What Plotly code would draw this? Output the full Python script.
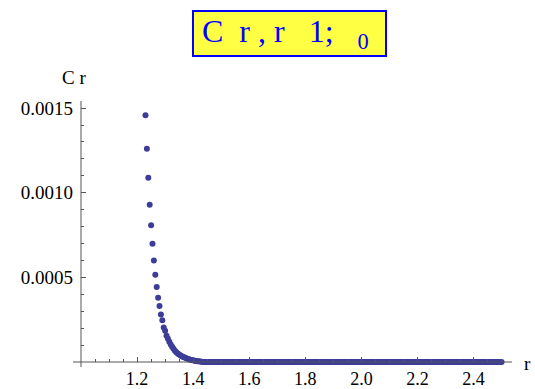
import numpy as np
import plotly.graph_objects as go

# Sampled radii: uniform step from the first point inside the plot range to r = 2.5
r_start, r_step, r_end = 1.23, 0.005, 2.5
r_values = np.round(np.arange(r_start, r_end + r_step / 2, r_step), 4)

# C(r) on the steep part of the curve
c_decay = [
    0.001457, 0.001260, 0.001088, 0.000929, 0.000808, 0.000699, 0.000600, 0.000516,
    0.000443, 0.000380, 0.000331, 0.000281, 0.000246, 0.000204, 0.000185, 0.000155,
    0.000137, 0.000120, 0.000104, 0.000090, 0.000078, 0.000067, 0.000058, 0.000050,
    0.000044, 0.000039, 0.000034, 0.000030, 0.000026, 0.000022, 0.000019, 0.000016,
    0.000014, 0.000012, 0.000010, 0.000008, 0.000006, 0.000005, 0.000004, 0.000003,
    0.000002,
]
# beyond r ~ 1.43 the values sit on the axis
c_values = c_decay + [0.0] * (len(r_values) - len(c_decay))

x_tick_vals = [1.2, 1.4, 1.6, 1.8, 2.0, 2.2, 2.4]
x_tick_text = ["1.2", "1.4", "1.6", "1.8", "2.0", "2.2", "2.4"]
y_tick_vals = [0.0005, 0.0010, 0.0015]
y_tick_text = ["0.0005", "0.0010", "0.0015"]

W, H = 535, 389
ML, MR, MT, MB = 81, 25, 103, 27
PW, PH = W - ML - MR, H - MT - MB


def px(x):
    return (x - ML) / PW


def py(y):
    return (H - MB - y) / PH


AXIS = "#555555"
FONT = "Liberation Serif, Times New Roman, serif"

fig = go.Figure(
    go.Scatter(
        x=r_values,
        y=c_values,
        mode="markers",
        marker=dict(size=6, color="#3d3d99"),
        cliponaxis=False,
        hoverinfo="skip",
    )
)

x_minor = [round(1.0 + 0.05 * k, 2) for k in range(1, 31) if k % 4 != 0]
y_minor = [round(0.0001 * k, 4) for k in range(1, 16) if k % 5 != 0]

fig.update_xaxes(
    range=[1.0, 2.53],
    automargin=False,
    showgrid=False,
    zeroline=False,
    showline=False,
    tickmode="array",
    tickvals=x_tick_vals,
    ticktext=x_tick_text,
    ticks="inside",
    ticklen=5,
    tickwidth=1,
    tickcolor=AXIS,
    ticklabelstandoff=4,
    minor=dict(tickvals=x_minor, ticks="inside", ticklen=3, tickwidth=1, tickcolor=AXIS),
    tickfont=dict(family=FONT, size=18, color="black"),
)
fig.update_yaxes(
    range=[0, 0.00153],
    automargin=False,
    showgrid=False,
    zeroline=False,
    showline=False,
    tickmode="array",
    tickvals=y_tick_vals,
    ticktext=y_tick_text,
    ticks="inside",
    ticklen=5,
    tickwidth=1,
    tickcolor=AXIS,
    ticklabelstandoff=7,
    minor=dict(tickvals=y_minor, ticks="inside", ticklen=3, tickwidth=1, tickcolor=AXIS),
    tickfont=dict(family=FONT, size=19, color="black"),
)

# axis lines crossing at (1, 0), each running a little past the other
fig.add_shape(type="line", xref="paper", yref="paper",
              x0=px(73), x1=px(512), y0=0, y1=0,
              line=dict(color=AXIS, width=1))
fig.add_shape(type="line", xref="paper", yref="paper",
              x0=0, x1=0, y0=py(367), y1=py(101),
              line=dict(color=AXIS, width=1))

# axis labels
fig.add_annotation(text="C r", xref="paper", yref="paper", x=px(74), y=py(77),
                   xanchor="center", yanchor="middle",
                   showarrow=False, font=dict(family=FONT, size=19, color="black"))
fig.add_annotation(text="r", xref="paper", yref="paper", x=px(527), y=py(363),
                   xanchor="center", yanchor="middle",
                   showarrow=False, font=dict(family=FONT, size=19, color="black"))

# framed title
nb = "\u00a0"
title_text = f"{nb}C{nb*2}r{nb},{nb}r{nb*3}1;{nb*3}<sub>0</sub>"
fig.add_annotation(
    text=title_text,
    xref="paper", yref="paper",
    x=px(192), y=py(33.5),
    xanchor="left", yanchor="middle",
    width=191, height=43,
    align="left", valign="middle",
    showarrow=False,
    bgcolor="#ffff44",
    bordercolor="#0000ff",
    borderwidth=2,
    borderpad=0,
    font=dict(family=FONT, size=32, color="#0000ff"),
)

fig.update_layout(
    width=W,
    height=H,
    margin=dict(l=ML, r=MR, t=MT, b=MB, autoexpand=False),
    paper_bgcolor="white",
    plot_bgcolor="white",
    showlegend=False,
    font=dict(family=FONT),
)

fig.write_html("out.html")
